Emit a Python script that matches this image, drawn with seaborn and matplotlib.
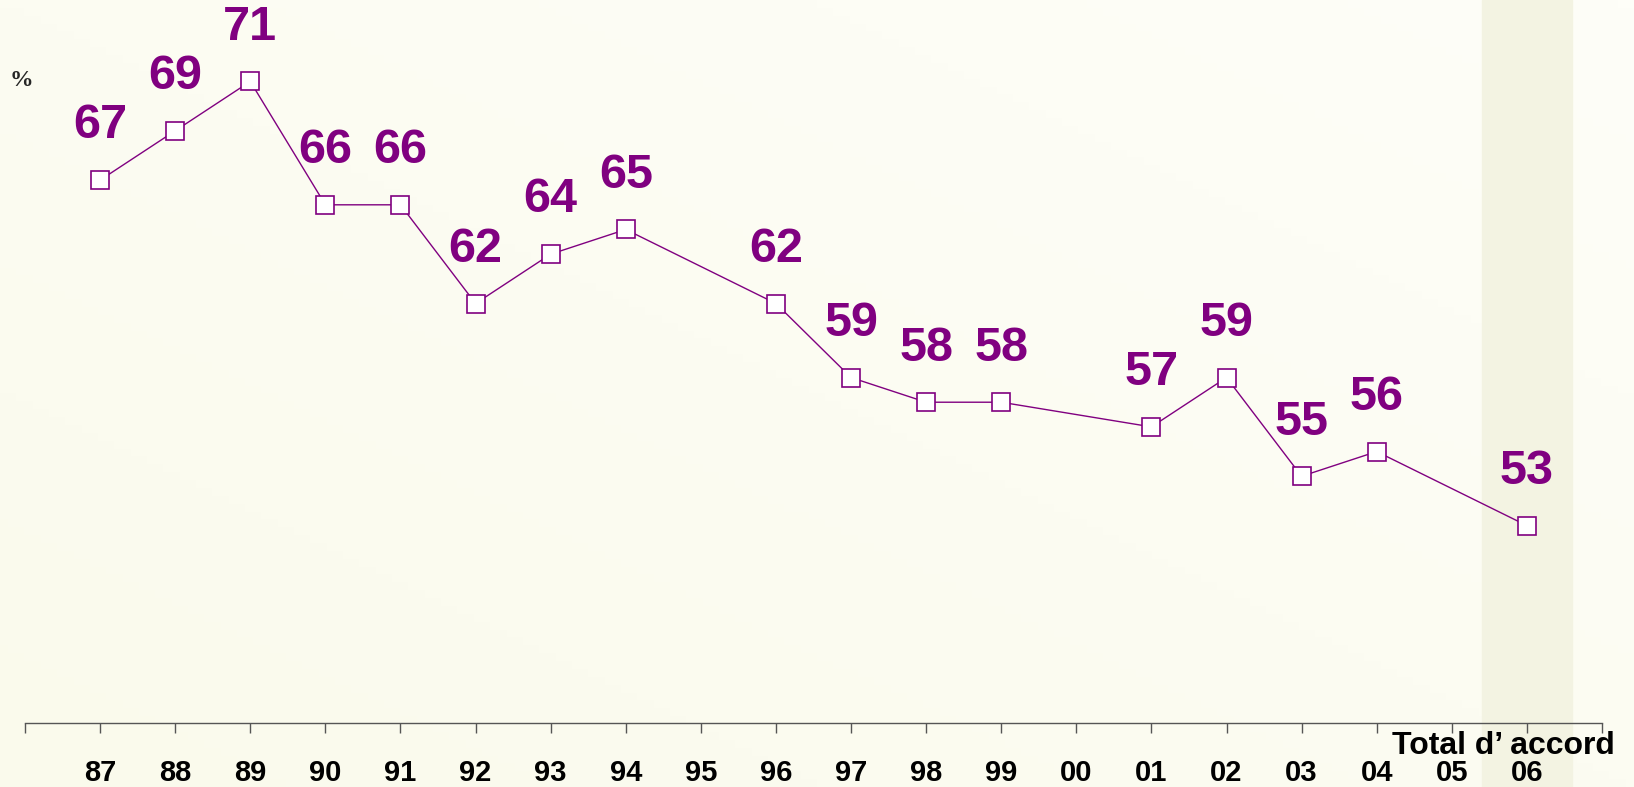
import numpy as np
import pandas as pd
import matplotlib.pyplot as plt
import seaborn as sns

# data (None = no survey that year)
years = ['87', '88', '89', '90', '91', '92', '93', '94', '95', '96',
         '97', '98', '99', '00', '01', '02', '03', '04', '05', '06']
accord = [67, 69, 71, 66, 66, 62, 64, 65, None, 62,
          59, 58, 58, None, 57, 59, 55, 56, None, 53]

purple = '#800080'

df = pd.DataFrame({'pos': range(len(years)), 'year': years, 'accord': accord})
df = df.dropna()

sns.set_style('white')
plt.rcParams['font.family'] = ['Liberation Sans', 'DejaVu Sans']

fig = plt.figure(figsize=(16.34, 7.87), dpi=100)

# soft cream gradient background
bg = fig.add_axes([0, 0, 1, 1], zorder=-10)
gx, gy = np.meshgrid(np.linspace(0, 1, 200), np.linspace(0, 1, 100))
grad = (gx + (1 - gy)) / 2
bg.imshow(grad, cmap=plt.matplotlib.colors.LinearSegmentedColormap.from_list(
    'cream', ['#FAFAEC', '#FEFEF8']), aspect='auto', extent=[0, 1, 0, 1])
bg.axis('off')

ax = fig.add_axes([25 / 1634, 64 / 787, (1602 - 25) / 1634, 723 / 787])
ax.set_facecolor('none')

# highlighted last column
ax.axvspan(18.4, 19.6, ymin=-0.09, ymax=1.0, color='#F3F3E2', zorder=0, clip_on=False)

sns.lineplot(data=df, x='pos', y='accord', ax=ax, color=purple, lw=1,
             marker='s', markersize=13, markerfacecolor='white',
             markeredgecolor=purple, markeredgewidth=1.2, zorder=3)

for _, r in df.iterrows():
    ax.annotate(f"{int(r['accord'])}", (r['pos'], r['accord']), xytext=(0, 39),
                textcoords='offset points', ha='center', va='center',
                fontsize=35, fontweight='bold', color=purple)

ax.set_xlim(-1, 20)
ax.set_ylim(45, 74.3)
ax.set_xticks(range(-1, 21))
ax.set_xticklabels([''] + years + [''], fontsize=21, fontweight='bold', color='black')
ax.tick_params(axis='x', direction='out', length=7, width=1, color='#555555', pad=19, bottom=True)
ax.set_yticks([])
ax.set_xlabel('')
ax.set_ylabel('')
for s in ['top', 'right', 'left']:
    ax.spines[s].set_visible(False)
ax.spines['bottom'].set_color('#555555')
ax.spines['bottom'].set_linewidth(1)

fig.text(1615 / 1634, (787 - 746) / 787, 'Total d\u2019 accord', ha='right', va='center',
         fontsize=23, fontweight='bold', color='black')
fig.text(10 / 1634, (787 - 80) / 787, '%', ha='left', va='center', fontsize=17,
         fontweight='bold', family=['Liberation Serif', 'DejaVu Serif'])

fig.savefig('out.png', dpi=100)
